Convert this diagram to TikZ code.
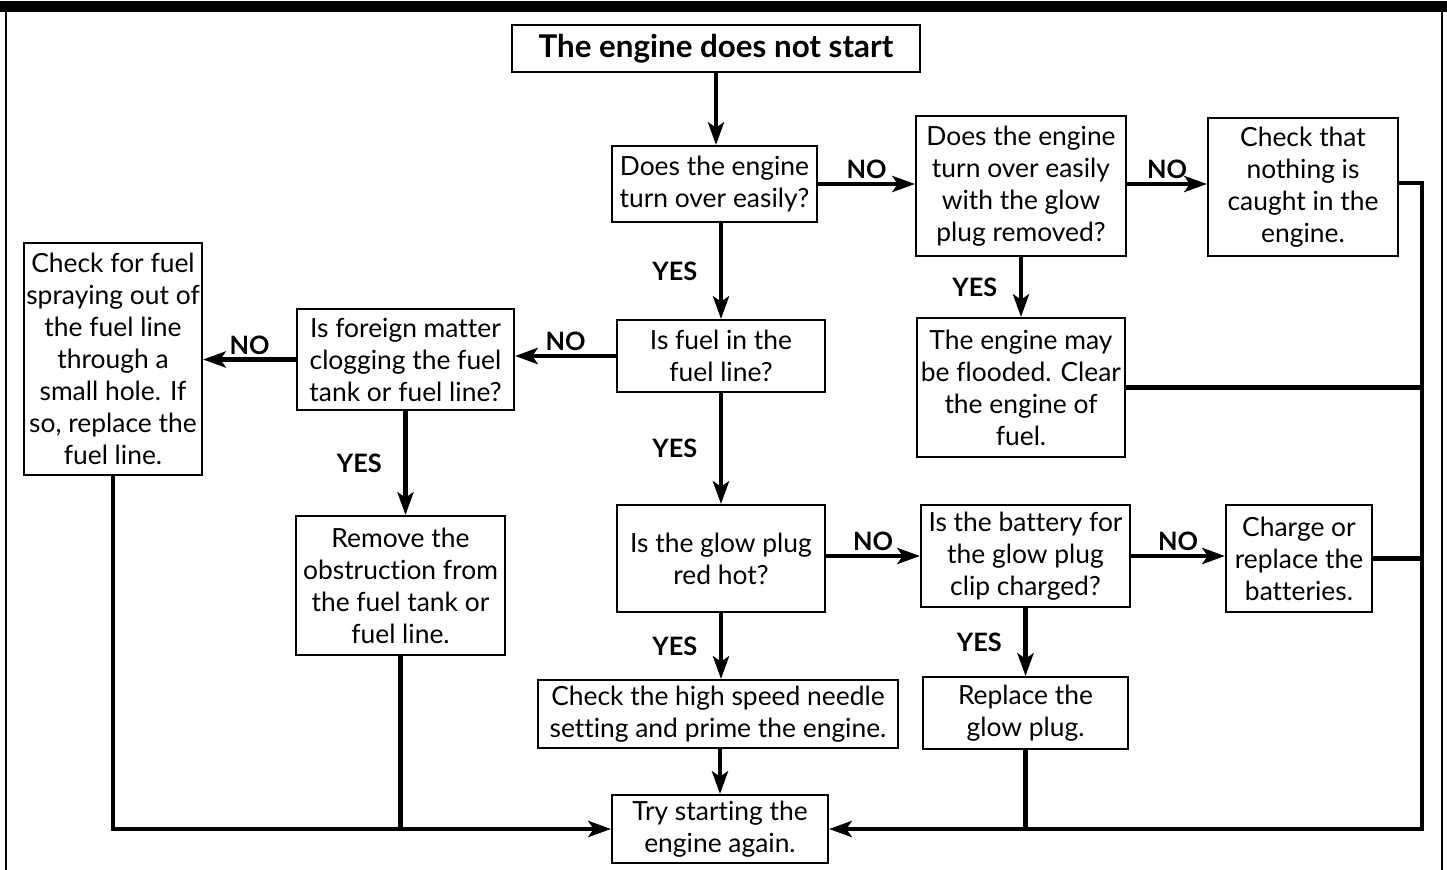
\documentclass[tikz,border=0pt]{standalone}
\usepackage{fontspec}
\setmainfont{Lato}[Ligatures=NoCommon]
\usetikzlibrary{arrows.meta}

\begin{document}
\begin{tikzpicture}[x=0.75pt,y=0.75pt,yscale=-1,
    box/.style={draw, line width=1.5pt, align=center, inner sep=0pt, font=\fontsize{19.8}{24}\selectfont},
    wh/.style 2 args={minimum width=#1*0.75pt, minimum height=#2*0.75pt},
    flow/.style={line width=3.5pt, line join=miter, -{Stealth[length=17pt,width=12pt,inset=4pt]}},
    joinline/.style={line width=3.5pt},
    ans/.style={font=\fontsize{19}{20}\selectfont\bfseries, inner sep=2pt}]
		\useasboundingbox (0,0) rectangle (1447,870);

		% Frame
		\fill (0,1) rectangle (1447,12);
		\draw [line width=1.5pt] (5.5,12) -- (5.5,870);
		\draw [line width=1.5pt] (1441.5,12) -- (1441.5,870);

		% Boxes
		\node [box, wh={408}{47}, font=\fontsize{23.5}{24}\selectfont\bfseries] (title) at (716,48.5) {The engine does not start};
		\node [box, wh={205}{76}]  (q1)      at (714.5,184)  {Does the engine\\turn over easily?};
		\node [box, wh={210}{140}] (q2)      at (1021,186)   {Does the engine\\turn over easily\\with the glow\\plug removed?};
		\node [box, wh={190}{138}] (check)   at (1303,187)   {Check that\\nothing is\\caught in the\\engine.};
		\node [box, wh={208}{139}] (flood)   at (1021,387.5) {The engine may\\be flooded. Clear\\the engine of\\fuel.};
		\node [box, wh={208}{72}]  (fuel)    at (721,356)    {Is fuel in the\\fuel line?};
		\node [box, wh={217}{101}] (foreign) at (405.5,359.5) {Is foreign matter\\clogging the fuel\\tank or fuel line?};
		\node [box, wh={178}{232}] (spray)   at (113,359)    {Check for fuel\\spraying out of\\the fuel line\\through a\\small hole. If\\so, replace the\\fuel line.};
		\node [box, wh={209}{139}] (remove)  at (400.5,585.5) {Remove the\\obstruction from\\the fuel tank or\\fuel line.};
		\node [box, wh={208}{107}] (glow)    at (721,558.5)  {Is the glow plug\\red hot?};
		\node [box, wh={209}{102}] (battery) at (1025.5,556) {Is the battery for\\the glow plug\\clip charged?};
		\node [box, wh={146}{107}] (charge)  at (1299,558.5) {Charge or\\replace the\\batteries.};
		\node [box, wh={360}{68}]  (needle)  at (718,714)    {Check the high speed needle\\setting and prime the engine.};
		\node [box, wh={205}{72}]  (replace) at (1025.5,713) {Replace the\\glow plug.};
		\node [box, wh={216}{68}]  (try)     at (720,829)    {Try starting the\\engine again.};

		\coordinate (rail) at (1422,183);

		% Arrows
		\draw [flow] (title.south) -- (title.south |- q1.north);
		\draw [flow] (q1.south -| fuel.north) -- (fuel.north) node [ans, midway, left=14pt] (yes1) {YES};
		\draw [flow] (q1.east) -- (q2.west |- q1.east) node [ans, midway, above] (no1) {NO};
		\draw [flow] (q2.east |- q1.east) -- (check.west |- q1.east) node [ans, midway, above] (no2) {NO};
		\draw [flow] (q2.south) -- (flood.north) node [ans, midway, left=14pt] (yes2) {YES};
		\draw [flow] (fuel.west) -- (foreign.east |- fuel.west) node [ans, midway, above] (no3) {NO};
		\draw [flow] (foreign.west) -- (spray.east |- foreign.west) node [ans, midway, above] (no4) {NO};
		\draw [flow] (foreign.south) -- (remove.north -| foreign.south) node [ans, midway, left=14pt] (yes3) {YES};
		\draw [flow] (fuel.south) -- (glow.north) node [ans, midway, left=14pt] (yes4) {YES};
		\draw [flow] (glow.east |- battery.east) -- (battery.west) node [ans, midway, above] (no5) {NO};
		\draw [flow] (battery.east) -- (charge.west |- battery.east) node [ans, midway, above] (no6) {NO};
		\draw [flow] (battery.south) -- (replace.north -| battery.south) node [ans, midway, left=14pt] (yes5) {YES};
		\draw [flow] (glow.south) -- (needle.north -| glow.south) node [ans, midway, left=14pt] (yes6) {YES};
		\draw [flow] (needle.south -| try.north) -- (try.north);

		% Return lines
		\draw [flow] (spray.south) |- (try.west);
		\draw [joinline] (remove.south) -- (remove.south |- try.west);
		\draw [flow] (check.east |- rail) -- (rail) -- (rail |- try.east) -- (try.east);
		\draw [joinline] (flood.east) -- (flood.east -| rail);
		\draw [joinline] (charge.east) -- (charge.east -| rail);
		\draw [joinline] (replace.south) -- (replace.south |- try.east);
	\end{tikzpicture}
\end{document}
